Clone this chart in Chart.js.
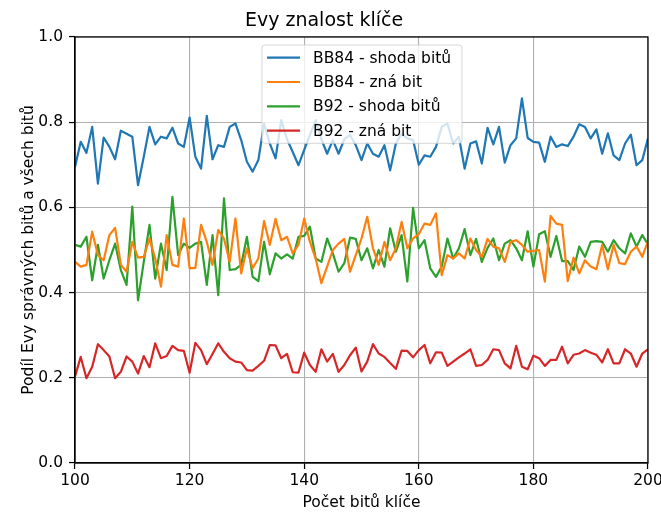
<!DOCTYPE html>
<html>
<head>
<meta charset="utf-8">
<script src="https://cdn.jsdelivr.net/npm/chart.js@4"></script>
<style>
  html, body { margin: 0; padding: 0; background: #fff; }
  canvas { display: block; }
</style>
</head>
<body>
<canvas id="c" width="661" height="515"></canvas>
<script>
// ---- data ----
const xStart = 100;
const xEnd = 200;
const chartTitle = "Evy znalost klíče";
const xLabel = "Počet bitů klíče";
const yLabel = "Podíl Evy správných bitů a všech bitů";
const seriesNames = ["BB84 - shoda bitů", "BB84 - zná bit", "B92 - shoda bitů", "B92 - zná bit"];
const xTicks = [100, 120, 140, 160, 180, 200];
const yTicks = [0.0, 0.2, 0.4, 0.6, 0.8, 1.0];

const bb84Match = [
  0.695,0.754,0.728,0.789,0.656,0.764,0.742,0.713,0.780,0.773,
  0.766,0.652,0.719,0.789,0.748,0.766,0.762,0.787,0.750,0.742,
  0.811,0.719,0.691,0.815,0.713,0.746,0.742,0.789,0.797,0.758,
  0.707,0.684,0.711,0.797,0.750,0.715,0.805,0.760,0.730,0.699,
  0.735,0.770,0.805,0.760,0.726,0.758,0.726,0.760,0.770,0.746,
  0.711,0.750,0.726,0.719,0.746,0.687,0.750,0.773,0.762,0.758,
  0.700,0.722,0.719,0.742,0.789,0.797,0.750,0.766,0.691,0.750,
  0.755,0.703,0.787,0.748,0.789,0.705,0.746,0.762,0.856,0.763,
  0.754,0.752,0.707,0.766,0.742,0.748,0.744,0.766,0.795,0.789,
  0.762,0.783,0.726,0.774,0.722,0.711,0.750,0.771,0.699,0.711,
  0.762
];
const bb84Known = [
  0.472,0.461,0.465,0.543,0.488,0.476,0.535,0.552,0.465,0.449,
  0.519,0.482,0.484,0.527,0.480,0.414,0.535,0.465,0.461,0.574,
  0.457,0.458,0.559,0.519,0.465,0.547,0.527,0.472,0.574,0.445,
  0.504,0.457,0.480,0.568,0.512,0.573,0.523,0.531,0.492,0.512,
  0.574,0.519,0.480,0.422,0.461,0.500,0.515,0.526,0.449,0.488,
  0.527,0.578,0.504,0.465,0.519,0.476,0.504,0.566,0.504,0.527,
  0.537,0.562,0.559,0.586,0.441,0.488,0.480,0.492,0.480,0.527,
  0.500,0.484,0.526,0.508,0.504,0.472,0.519,0.523,0.512,0.496,
  0.498,0.500,0.426,0.580,0.562,0.559,0.427,0.482,0.445,0.476,
  0.461,0.455,0.512,0.455,0.512,0.469,0.467,0.496,0.508,0.484,
  0.521
];
const b92Match = [
  0.512,0.508,0.531,0.429,0.512,0.433,0.476,0.515,0.453,0.418,
  0.602,0.382,0.472,0.559,0.433,0.515,0.453,0.625,0.488,0.515,
  0.505,0.515,0.519,0.418,0.535,0.394,0.621,0.453,0.455,0.465,
  0.531,0.437,0.427,0.519,0.443,0.492,0.480,0.490,0.480,0.531,
  0.533,0.555,0.480,0.472,0.527,0.492,0.449,0.469,0.529,0.526,
  0.476,0.504,0.457,0.500,0.461,0.551,0.496,0.535,0.426,0.599,
  0.504,0.523,0.457,0.437,0.461,0.527,0.480,0.504,0.549,0.488,
  0.526,0.472,0.505,0.527,0.476,0.515,0.523,0.504,0.476,0.544,
  0.461,0.537,0.544,0.484,0.533,0.474,0.474,0.453,0.508,0.484,
  0.519,0.521,0.519,0.496,0.523,0.504,0.492,0.539,0.508,0.535,
  0.513
];
const b92Known = [
  0.203,0.249,0.199,0.226,0.279,0.265,0.250,0.199,0.214,0.250,
  0.238,0.210,0.251,0.225,0.281,0.246,0.251,0.275,0.265,0.263,
  0.212,0.282,0.265,0.232,0.256,0.281,0.261,0.246,0.238,0.236,
  0.218,0.217,0.228,0.240,0.277,0.276,0.246,0.256,0.213,0.212,
  0.259,0.230,0.214,0.267,0.238,0.256,0.214,0.230,0.253,0.271,
  0.215,0.238,0.279,0.257,0.249,0.235,0.221,0.264,0.263,0.248,
  0.265,0.277,0.234,0.260,0.259,0.228,0.238,0.248,0.257,0.267,
  0.228,0.230,0.242,0.267,0.265,0.234,0.222,0.275,0.226,0.220,
  0.252,0.246,0.228,0.242,0.242,0.273,0.234,0.254,0.257,0.265,
  0.259,0.254,0.236,0.267,0.234,0.234,0.267,0.257,0.226,0.257,
  0.267
];
const colors = ["#1f77b4", "#ff7f0e", "#2ca02c", "#d62728"];

// ---- build ----
const xs = bb84Match.map((_, i) => xStart + i);
const allSeries = [bb84Match, bb84Known, b92Match, b92Known];
const datasets = allSeries.map((vals, k) => ({
  label: seriesNames[k],
  data: vals.map((v, i) => ({ x: xs[i], y: v })),
  borderColor: colors[k],
  backgroundColor: colors[k],
  borderWidth: 2.2,
  pointRadius: 0,
  pointHoverRadius: 0,
  tension: 0,
  fill: false,
  borderJoinStyle: 'round'
}));

Chart.defaults.font.family = "'DejaVu Sans', sans-serif";
Chart.defaults.color = "#000";

const FONT = 15.5;

const frameAndLegend = {
  id: 'frameAndLegend',
  afterDatasetsDraw(chart) {
    const ctx = chart.ctx;
    const a = chart.chartArea;
    ctx.save();
    // axes frame
    ctx.strokeStyle = '#000';
    ctx.lineWidth = 1.25;
    ctx.strokeRect(a.left, a.top, a.right - a.left, a.bottom - a.top);
    // legend
    const left = 262, top = 45, right = 462, rowH = 24.3;
    const n = chart.data.datasets.length;
    const bottom = top + 12.7 * 2 + rowH * (n - 1);
    const r = 3;
    ctx.beginPath();
    ctx.moveTo(left + r, top);
    ctx.lineTo(right - r, top);
    ctx.quadraticCurveTo(right, top, right, top + r);
    ctx.lineTo(right, bottom - r);
    ctx.quadraticCurveTo(right, bottom, right - r, bottom);
    ctx.lineTo(left + r, bottom);
    ctx.quadraticCurveTo(left, bottom, left, bottom - r);
    ctx.lineTo(left, top + r);
    ctx.quadraticCurveTo(left, top, left + r, top);
    ctx.closePath();
    ctx.fillStyle = 'rgba(255,255,255,0.8)';
    ctx.fill();
    ctx.strokeStyle = 'rgba(204,204,204,0.8)';
    ctx.lineWidth = 1;
    ctx.stroke();
    ctx.font = FONT + "px 'DejaVu Sans', sans-serif";
    ctx.textBaseline = 'middle';
    ctx.textAlign = 'left';
    chart.data.datasets.forEach((ds, i) => {
      const cy = top + 12.7 + i * rowH;
      ctx.beginPath();
      ctx.strokeStyle = ds.borderColor;
      ctx.lineWidth = 2.2;
      ctx.moveTo(267, cy);
      ctx.lineTo(300, cy);
      ctx.stroke();
      ctx.fillStyle = '#000';
      ctx.fillText(ds.label, 313, cy + 1);
    });
    ctx.restore();
  }
};

new Chart(document.getElementById('c'), {
  type: 'line',
  data: { datasets },
  options: {
    responsive: false,
    devicePixelRatio: 1,
    animation: false,
    events: [],
    layout: { padding: { left: 0, right: 13, top: 0, bottom: 0 } },
    plugins: {
      legend: { display: false },
      tooltip: { enabled: false },
      title: {
        display: true,
        text: chartTitle,
        color: '#000',
        font: { size: 19, weight: 'normal', family: "'DejaVu Sans', sans-serif" },
        padding: { top: 9.6, bottom: 4.6 }
      }
    },
    scales: {
      x: {
        type: 'linear',
        min: xStart,
        max: xEnd,
        afterFit(s) { s.height = 52; s.paddingLeft = 0; s.paddingRight = 0; },
        afterBuildTicks(s) { s.ticks = xTicks.map(v => ({ value: v })); },
        ticks: {
          autoSkip: false, maxRotation: 0, minRotation: 0,
          padding: 3,
          font: { size: FONT },
          color: '#000',
          callback: v => String(v)
        },
        grid: { color: '#b0b0b0', lineWidth: 1.1, tickLength: 6, tickColor: '#000', tickWidth: 1.25 },
        border: { display: true, color: '#000', width: 1.25 },
        title: {
          display: true, text: xLabel, color: '#000',
          font: { size: FONT }, padding: { top: 0, bottom: 2.7 }
        }
      },
      y: {
        type: 'linear',
        min: 0,
        max: 1,
        afterFit(s) { s.width = 75; s.paddingTop = 0; s.paddingBottom = 0; },
        afterBuildTicks(s) { s.ticks = yTicks.map(v => ({ value: v })); },
        ticks: {
          padding: 6,
          font: { size: FONT },
          color: '#000',
          callback: v => Number(v).toFixed(1)
        },
        grid: { color: '#b0b0b0', lineWidth: 1.1, tickLength: 6, tickColor: '#000', tickWidth: 1.25 },
        border: { display: true, color: '#000', width: 1.25 },
        title: {
          display: true, text: yLabel, color: '#000',
          font: { size: FONT }, padding: { top: 19.7, bottom: 0 }
        }
      }
    }
  },
  plugins: [frameAndLegend]
});
</script>
</body>
</html>
